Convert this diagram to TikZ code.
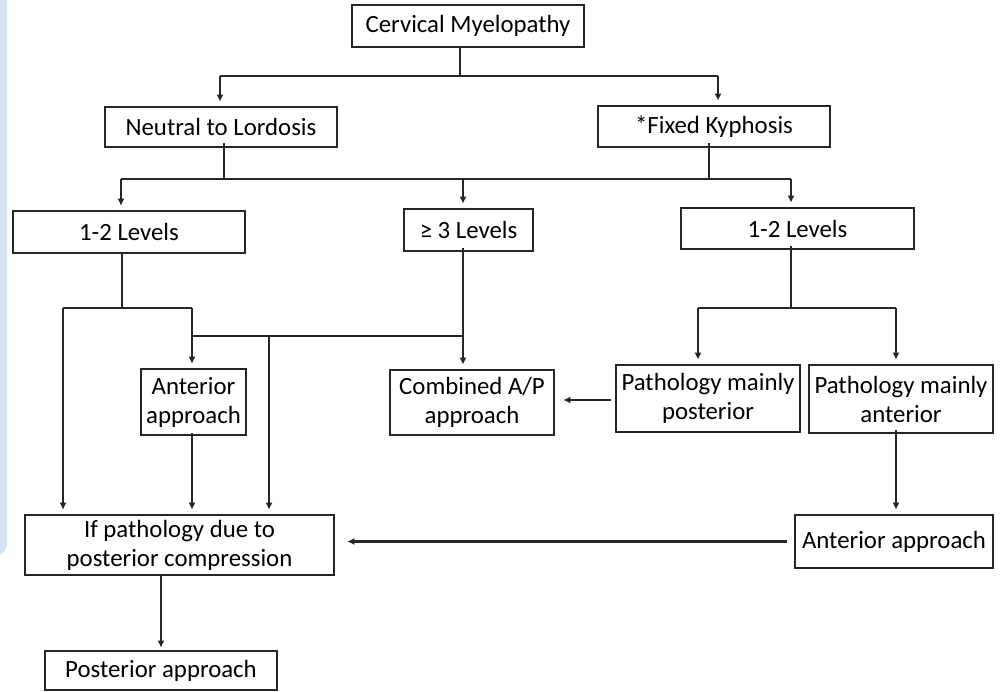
\documentclass[tikz,border=0pt]{standalone}
\usepackage{fontspec}
\setmainfont{Carlito}
\usetikzlibrary{arrows.meta}
\definecolor{panelblue}{HTML}{D5E3F2}
\begin{document}
\begin{tikzpicture}[x=1pt,y=-1pt,
  box/.style={draw=black!85,line width=2.6pt,fill=white,inner sep=0pt,align=center,
    font=\fontsize{24.8}{29}\selectfont},
  conn/.style={line width=2.8pt,black!85},
  arr/.style={conn,-{Latex[length=7pt,width=7pt]},shorten >=4pt}]
\useasboundingbox (0,0) rectangle (1001,692);
\fill[panelblue,rounded corners=12pt] (-30,-30) rectangle (7,556);
% nodes
\node[box,minimum width=232,minimum height=42] (cm) at (468,26) {Cervical Myelopathy};
\node[box,minimum width=232,minimum height=40] (ntl) at (221,127) {Neutral to Lordosis};
\node[box,minimum width=232,minimum height=41] (fk) at (714,126.5) {*Fixed Kyphosis};
\node[box,minimum width=232,minimum height=42] (l12) at (129,232) {1-2 Levels};
\node[box,minimum width=129,minimum height=42] (g3) at (468.5,230) {≥ 3 Levels};
\node[box,minimum width=233,minimum height=41] (r12) at (797.5,228.5) {1-2 Levels};
\node[box,minimum width=184,minimum height=67] (pmp) at (708,398.5) {Pathology mainly\\posterior};
\node[box,minimum width=184,minimum height=68] (pma) at (901,399) {Pathology mainly\\anterior};
\node[box,minimum width=164,minimum height=65] (cap) at (472,402.5) {Combined A/P\\approach};
\node[box,minimum width=105,minimum height=66] (aa) at (193.5,402) {Anterior\\approach};
\node[box,minimum width=309,minimum height=60] (ifp) at (179.5,545) {If pathology due to\\posterior compression};
\node[box,minimum width=198,minimum height=53] (aar) at (894,541.5) {Anterior approach};
\node[box,minimum width=232,minimum height=39] (pa) at (161,670.5) {Posterior approach};
% junction coordinates
\coordinate (j0) at (460,76);
\coordinate (j0l) at (220,76);
\coordinate (j0r) at (718,76);
\coordinate (j1) at (224,179);
\coordinate (j1k) at (709,179);
\coordinate (j1l) at (121,179);
\coordinate (j1m) at (463,179);
\coordinate (j1r) at (791,179);
\coordinate (j2) at (791,308);
\coordinate (j2l) at (698,308);
\coordinate (j2r) at (896,308);
\coordinate (j3) at (122,308);
\coordinate (j3l) at (63,308);
\coordinate (j3r) at (192,308);
\coordinate (j4l) at (192,336);
\coordinate (j4m) at (269,336);
\coordinate (j4r) at (463,336);
% connectors
\draw[conn] (cm.south -| j0) -- (j0);
\draw[conn] (j0l) -- (j0r);
\draw[arr] (j0l) -- (ntl.north -| j0l);
\draw[arr] (j0r) -- (fk.north -| j0r);
\draw[conn] ([yshift=5pt]ntl.south -| j1) -- (j1);
\draw[conn] ([yshift=5pt]fk.south -| j1k) -- (j1k);
\draw[conn] (j1l) -- (j1r);
\draw[arr] (j1l) -- (l12.north -| j1l);
\draw[arr] (j1m) -- (g3.north -| j1m);
\draw[arr] (j1r) -- (r12.north -| j1r);
\draw[conn] ([yshift=4pt]r12.south -| j2) -- (j2);
\draw[conn] (j2l) -- (j2r);
\draw[arr] (j2l) -- (pmp.north -| j2l);
\draw[arr] (j2r) -- (pma.north -| j2r);
\draw[conn] (l12.south -| j3) -- (j3);
\draw[conn] (j3l) -- (j3r);
\draw[arr] (j3l) -- (ifp.north -| j3l);
\draw[arr] (j3r) -- (aa.north -| j3r);
\draw[conn] (j4l) -- (j4r);
\draw[arr] ([yshift=4pt]g3.south -| j4r) -- (cap.north -| j4r);
\draw[arr] (j4m) -- (ifp.north -| j4m);
\draw[arr] ([yshift=3pt]aa.south -| j3r) -- (ifp.north -| j3r);
\draw[arr,shorten >=8pt] ([xshift=-4pt]pmp.west |- 0,400) -- (cap.east |- 0,400);
\draw[arr] ([yshift=4pt]pma.south -| j2r) -- (aar.north -| j2r);
\draw[arr,shorten >=12pt] ([xshift=-7pt]aar.west) -- (ifp.east |- aar.west);
\draw[arr,shorten >=2pt] (ifp.south -| 161,0) -- (pa.north -| 161,0);
\end{tikzpicture}
\end{document}
